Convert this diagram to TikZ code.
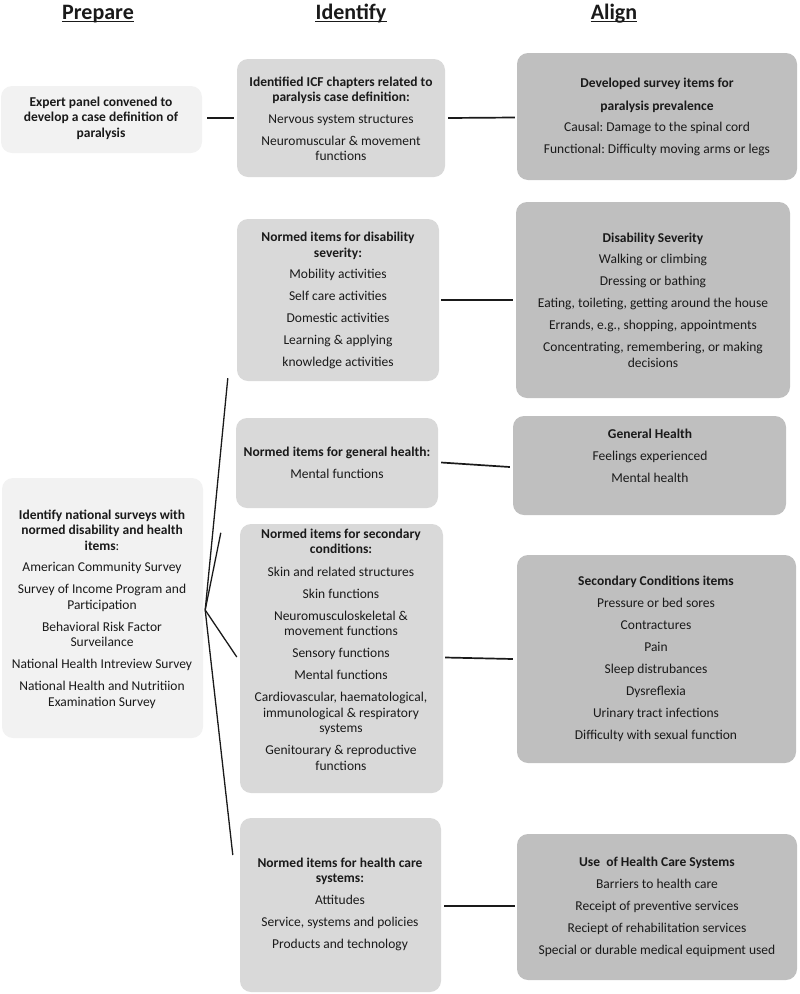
\documentclass[tikz,border=0pt]{standalone}
\usepackage{fontspec}
\setmainfont{Carlito}
\usetikzlibrary{fit}
\definecolor{cL}{HTML}{F2F2F2}
\definecolor{cM}{HTML}{D9D9D9}
\definecolor{cR}{HTML}{BFBFBF}
\definecolor{ink}{HTML}{1A1A1A}
\begin{document}
\begin{tikzpicture}[x=1pt,y=-1pt,
  boxbase/.style={draw=none,rounded corners=11pt,inner sep=0pt},
  boxL/.style={boxbase,fill=cL},
  boxM/.style={boxbase,fill=cM},
  boxR/.style={boxbase,fill=cR},
  txt/.style={align=center,inner sep=0pt,text=ink,font=\fontsize{13.5}{15.5}\selectfont},
  hdr/.style={inner sep=0pt,anchor=base,text=ink,font=\fontsize{22}{25}\selectfont\bfseries},
  conn/.style={draw=ink,line width=1.7pt},
  fan/.style={draw=ink,line width=1.3pt}]
\useasboundingbox (0,0) rectangle (800,994);

% headers
\node[hdr] (h1) at (98,19) {Prepare};
\node[hdr] (h2) at (351,19) {Identify};
\node[hdr] (h3) at (614,19) {Align};
\foreach \h in {h1,h2,h3}
  \draw[ink,line width=1.2pt] ([yshift=-2.5pt]\h.base west) -- ([yshift=-2.5pt]\h.base east);

% boxes
\node[boxL,fit={(1,86)(202,153)}] (b1) {};
\node[boxM,fit={(237,59)(445,177)}] (b2) {};
\node[boxR,fit={(517,53)(797,180)}] (b3) {};
\node[boxM,fit={(237,219)(439,381)}] (b4) {};
\node[boxR,fit={(516,202)(790,398)}] (b5) {};
\node[boxM,fit={(236,418)(438,508)}] (b6) {};
\node[boxR,fit={(513,416)(786,515)}] (b7) {};
\node[boxM,fit={(240,524)(443,793)}] (b8) {};
\node[boxR,fit={(517,555)(796,763)}] (b9) {};
\node[boxM,fit={(240,818)(441,992)}] (b10) {};
\node[boxR,fit={(517,834)(797,980)}] (b11) {};
\node[boxL,fit={(2,478)(203,738)}] (b12) {};

% texts
\node[txt,font=\fontsize{13.5}{15.5}\selectfont\bfseries] (t1) at (101,118)
 {Expert panel convened to\\develop a case definition of\\paralysis};
\node[txt] (t2) at (341,119)
 {\textbf{Identified ICF chapters related to}\\\textbf{paralysis case definition:}\\[6pt]
  Nervous system structures\\[6.5pt]Neuromuscular \& movement\\functions};
\node[txt] (t3) at (657,117)
 {\textbf{Developed survey items for}\\[7.5pt]\textbf{paralysis prevalence}\\[6pt]
  Causal:\ Damage to the spinal cord\\[6.5pt]Functional:\ Difficulty moving arms or legs};
\node[txt] (t4) at (338,300.5)
 {\textbf{Normed items for disability}\\\textbf{severity:}\\[6pt]
  Mobility activities\\[6.5pt]Self care activities\\[6.5pt]Domestic activities\\[6.5pt]
  Learning \& applying\\[6.5pt]knowledge activities};
\node[txt] (t5) at (653,300)
 {\textbf{Disability Severity}\\[6pt]Walking or climbing\\[6.5pt]Dressing or bathing\\[6.5pt]
  Eating, toileting, getting around the house\\[6.5pt]Errands, e.g., shopping, appointments\\[6.5pt]
  Concentrating, remembering, or making\\decisions};
\node[txt] (t6) at (337,463)
 {\textbf{Normed items for general health:}\\[6pt]Mental functions};
\node[txt] (t7) at (650,456)
 {\textbf{General Health}\\[6pt]Feelings experienced\\[6.5pt]Mental health};
\node[txt] (t8) at (341,649.5)
 {\textbf{Normed items for secondary}\\\textbf{conditions:}\\[7pt]
  Skin and related structures\\[6.5pt]Skin functions\\[6.5pt]
  Neuromusculoskeletal \&\\movement functions\\[6.5pt]Sensory functions\\[6.5pt]
  Mental functions\\[6.5pt]Cardiovascular, haematological,\\immunological \& respiratory\\systems\\[6.5pt]
  Genitourary \& reproductive\\functions};
\node[txt] (t9) at (656,659)
 {\textbf{Secondary Conditions items}\\[6.5pt]Pressure or bed sores\\[6.5pt]Contractures\\[6.5pt]
  Pain\\[6.5pt]Sleep distrubances\\[6.5pt]Dysreflexia\\[6.5pt]Urinary tract infections\\[6.5pt]
  Difficulty with sexual function};
\node[txt] (t10) at (340,904)
 {\textbf{Normed items for health care}\\\textbf{systems:}\\[6pt]
  Attitudes\\[6.5pt]Service, systems and policies\\[6.5pt]Products and technology};
\node[txt] (t11) at (657,907)
 {\textbf{Use\ \ of Health Care Systems}\\[6.5pt]Barriers to health care\\[6.5pt]
  Receipt of preventive services\\[6.5pt]Reciept of rehabilitation services\\[6.5pt]
  Special or durable medical equipment used};
\node[txt] (t12) at (102,609)
 {\textbf{Identify national surveys with}\\\textbf{normed disability and health}\\\textbf{items}:\\[6pt]
  American Community Survey\\[6.5pt]Survey of Income Program and\\Participation\\[6.5pt]
  Behavioral Risk Factor\\Surveilance\\[6.5pt]National Health Intreview Survey\\[6.5pt]
  National Health and Nutritiion\\Examination Survey};

% horizontal connectors
\draw[conn] ([xshift=5pt,yshift=1.5pt]b1.east) -- ([xshift=-3pt]b2.west);
\draw[conn] ([xshift=3pt]b2.east) -- ([xshift=-2pt,yshift=-1pt]b3.west);
\draw[conn] ([xshift=2pt]b4.east) -- ([xshift=-3pt]b5.west);
\draw[conn] ([xshift=3pt,yshift=0.5pt]b6.east) -- ([xshift=-3pt,yshift=-1.5pt]b7.west);
\draw[conn] ([xshift=2pt,yshift=1pt]b8.east) -- ([xshift=-4pt]b9.west);
\draw[conn] ([xshift=3pt,yshift=-1pt]b10.east) -- ([xshift=-2pt,yshift=1pt]b11.west);

% fan from survey box
\coordinate (j) at ([xshift=2pt,yshift=-2pt]b12.east);
\coordinate (e4) at ([xshift=-9pt,yshift=3pt]b4.south west);
\coordinate (e8a) at ([xshift=-19pt,yshift=-9pt]b8.north west);
\coordinate (e8b) at ([xshift=-3pt,yshift=1.5pt]b8.west);
\coordinate (e10) at ([xshift=-7pt,yshift=50pt]b10.west);
\draw[fan] (j) -- (e4);
\draw[fan] (j) -- (e8a);
\draw[fan] (j) -- (e8b);
\draw[fan] (j) -- (e10);
\end{tikzpicture}
\end{document}
